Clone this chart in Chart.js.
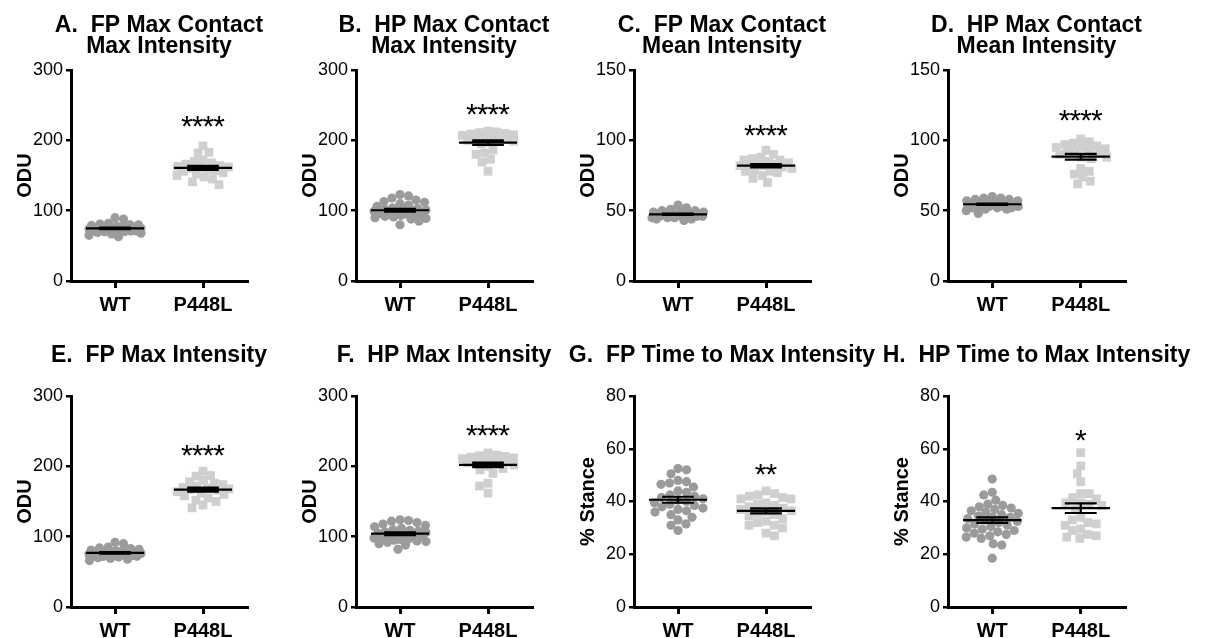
<!DOCTYPE html>
<html lang="en">
<head>
<meta charset="UTF-8" />
<title>P448L paw print intensity</title>
<script src="https://cdn.jsdelivr.net/npm/chart.js@4.4.1/dist/chart.umd.min.js"></script>
<style>
  body { margin: 0; background: #fff; width: 1206px; height: 638px; position: relative; overflow: hidden; }
  .panel { position: absolute; left: 0; top: 0; }
</style>
</head>
<body>
<script>
const groups = ['WT', 'P448L'];

const titles = [
  ['A.  FP Max Contact', 'Max Intensity'],
  ['B.  HP Max Contact', 'Max Intensity'],
  ['C.  FP Max Contact', 'Mean Intensity'],
  ['D.  HP Max Contact', 'Mean Intensity'],
  'E.  FP Max Intensity',
  'F.  HP Max Intensity',
  'G.  FP Time to Max Intensity',
  'H.  HP Time to Max Intensity'
];
const yTitles = ['ODU', 'ODU', 'ODU', 'ODU', 'ODU', 'ODU', '% Stance', '% Stance'];
const yMax = [300, 300, 150, 150, 300, 300, 80, 80];
const yStep = [100, 100, 50, 50, 100, 100, 20, 20];
const stars = ['****', '****', '****', '****', '****', '****', '**', '*'];
const starAt = [223, 240, 105, 116, 219, 247, 51, 64];

// per-animal values, WT then P448L
const wtA = [90, 88, 82, 81, 80, 80, 79, 78, 78, 77, 77, 76, 76, 75, 75, 74, 74, 73, 73, 72, 72, 71, 71, 70, 70, 69, 68, 67, 65, 63];
const mutA = [192, 183, 182, 172, 170, 168, 166, 164, 163, 162, 161, 160, 158, 157, 156, 154, 152, 150, 148, 145, 141, 137];
const wtB = [123, 121, 118, 115, 113, 112, 110, 108, 106, 104, 103, 102, 101, 100, 100, 99, 98, 97, 96, 95, 95, 94, 93, 92, 91, 90, 89, 88, 85, 80];
const mutB = [213, 212, 211, 210, 209, 208, 207, 206, 205, 204, 203, 202, 200, 199, 197, 195, 186, 182, 180, 173, 169, 156];
const wtC = [54, 52, 51, 50, 50, 49, 49, 49, 48, 48, 48, 48, 48, 47, 47, 47, 47, 47, 47, 46, 46, 46, 46, 46, 45, 45, 45, 44, 44, 43];
const mutC = [93, 90, 88, 87, 86, 86, 85, 84, 84, 83, 83, 82, 82, 81, 80, 79, 78, 78, 77, 75, 73, 70];
const wtD = [60, 59, 59, 58, 58, 57, 57, 57, 56, 56, 56, 55, 55, 55, 55, 54, 54, 54, 54, 53, 53, 53, 53, 52, 52, 52, 51, 51, 50, 48];
const mutD = [101, 99, 98, 97, 96, 95, 95, 94, 93, 92, 92, 91, 90, 88, 88, 87, 80, 78, 76, 74, 71, 69];
const wtE = [92, 90, 85, 84, 83, 82, 81, 80, 80, 79, 79, 78, 78, 77, 77, 76, 76, 75, 75, 74, 74, 73, 73, 72, 72, 71, 70, 69, 68, 66];
const mutE = [193, 187, 186, 180, 178, 176, 174, 172, 170, 169, 168, 167, 166, 164, 162, 160, 158, 155, 152, 150, 145, 141];
const wtF = [124, 123, 122, 120, 118, 116, 114, 112, 110, 109, 108, 107, 106, 105, 104, 103, 102, 101, 100, 99, 98, 97, 96, 95, 94, 93, 92, 90, 88, 82];
const mutF = [219, 216, 215, 214, 213, 212, 211, 210, 209, 208, 207, 206, 205, 204, 202, 200, 197, 195, 190, 176, 172, 162];
const wtG = [52.5, 52, 50.5, 48, 47.5, 47, 46.5, 45.5, 44, 43.5, 42.5, 42, 41.5, 41, 40.5, 40, 39.5, 39, 38.5, 38, 37.5, 37, 36.5, 36, 35, 34, 33, 31.5, 31, 29];
const mutG = [44, 43, 42.5, 42, 41.5, 41, 41, 39.5, 39, 38.5, 38, 37.5, 37, 36.5, 36, 35.5, 35, 34.5, 33.5, 32.5, 32, 31, 31, 30, 28, 27];
const wtH = [48.5, 43.5, 42.5, 40.5, 39, 38.5, 38, 37.5, 37, 36.5, 36, 35.5, 35, 34.5, 34, 34, 33.5, 33, 32.5, 32, 31.5, 31, 30.5, 30, 29.5, 29, 28.5, 28, 27.5, 27, 26.5, 26, 24, 23.5, 18.5];
const mutH = [58.5, 53.5, 50.5, 47.5, 43, 43, 41.5, 41, 39.5, 39.5, 39, 38.5, 37, 34, 33, 32, 31.5, 31, 29.5, 29, 27.5, 27, 26.5, 26];

const wtValues = [wtA, wtB, wtC, wtD, wtE, wtF, wtG, wtH];
const mutValues = [mutA, mutB, mutC, mutD, mutE, mutF, mutG, mutH];

// where each plot area sits on the page
const areas = [
  {x: 71, y: 70, w: 176, h: 211}, {x: 356, y: 70, w: 176, h: 211},
  {x: 634, y: 70, w: 176, h: 211}, {x: 948, y: 70, w: 177, h: 211},
  {x: 71, y: 396, w: 176, h: 211}, {x: 356, y: 396, w: 176, h: 211},
  {x: 634, y: 396, w: 176, h: 211}, {x: 948, y: 396, w: 177, h: 211}
];

const FONT = '"Liberation Sans", Arial, Helvetica, sans-serif';
Chart.defaults.font.family = FONT;
Chart.defaults.color = '#000';

const mean = a => a.reduce((s, v) => s + v, 0) / a.length;
const sem = a => {
  const m = mean(a);
  const sd = Math.sqrt(a.reduce((s, v) => s + (v - m) * (v - m), 0) / (a.length - 1));
  return sd / Math.sqrt(a.length);
};

// mean bar with SEM whiskers, broken into segments by empty points
function meanSemLine(vals, c) {
  const m = mean(vals), e = sem(vals), gap = {x: c, y: null};
  return [
    {x: c - 0.33, y: m}, {x: c + 0.33, y: m}, gap,
    {x: c, y: m - e}, {x: c, y: m + e}, gap,
    {x: c - 0.18, y: m + e}, {x: c + 0.18, y: m + e}, gap,
    {x: c - 0.18, y: m - e}, {x: c + 0.18, y: m - e}
  ];
}

// beeswarm with a width limit: take the free spot nearest the centre line,
// and when the row is full, the spot that overlaps the least
function spread(vals, chart, c) {
  const {x, y} = chart.scales;
  const unit = x.getPixelForValue(1) - x.getPixelForValue(0);
  const spacing = 8.5, maxHalf = 26;
  const order = vals.map((v, i) => i).sort((a, b) => vals[b] - vals[a]);
  const placed = [];
  const xs = new Array(vals.length);
  order.forEach((i, n) => {
    const py = y.getPixelForValue(vals[i]);
    const near = placed.filter(p => Math.abs(p.py - py) < spacing);
    const side = n % 2 ? -1 : 1;
    let best = 0, bestGap = -1, bestFree = null;
    for (let k = 0; k <= maxHalf * 4; k++) {
      const cand = side * (k % 2 ? -1 : 1) * Math.ceil(k / 2) * 0.5;
      let gap = Infinity;
      near.forEach(p => {
        const dx = p.off - cand, dy = p.py - py;
        gap = Math.min(gap, Math.sqrt(dx * dx + dy * dy));
      });
      if (gap >= spacing) { bestFree = cand; break; }
      if (gap > bestGap + 0.01) { bestGap = gap; best = cand; }
    }
    const off = bestFree !== null ? bestFree : best;
    placed.push({py, off});
    xs[i] = c + off / unit;
  });
  return xs;
}

const titlePlugin = {
  id: 'panelTitle',
  afterDraw(chart, args, opts) {
    const {ctx, chartArea: a} = chart;
    const lines = [].concat(opts.text);
    const cx = (a.left + a.right) / 2;
    const last = a.top - opts.gap;
    ctx.save();
    ctx.fillStyle = '#000';
    ctx.font = 'bold 23px ' + FONT;
    ctx.textAlign = 'center';
    ctx.textBaseline = 'alphabetic';
    lines.forEach((s, k) => ctx.fillText(s, cx, last - (lines.length - 1 - k) * 21.6));
    ctx.restore();
  }
};

const starPlugin = {
  id: 'stars',
  afterDatasetsDraw(chart, args, opts) {
    const {ctx, scales: {x, y}} = chart;
    const px = x.getPixelForValue(1.5);
    const py = y.getPixelForValue(opts.value);
    const size = 30, step = 10.8, n = opts.text.length;
    ctx.save();
    ctx.fillStyle = '#000';
    ctx.font = size + 'px ' + FONT;
    ctx.textAlign = 'center';
    ctx.textBaseline = 'alphabetic';
    for (let k = 0; k < n; k++) {
      ctx.fillText(opts.text[k], px + (k - (n - 1) / 2) * step, py + 0.4 * size);
    }
    ctx.restore();
  }
};

function makePanel(i) {
  const wrap = document.createElement('div');
  wrap.className = 'panel';
  const canvas = document.createElement('canvas');
  canvas.width = 350;
  canvas.height = 330;
  wrap.appendChild(canvas);
  document.body.appendChild(wrap);

  const twoLine = Array.isArray(titles[i]);
  const wt = wtValues[i], mut = mutValues[i];

  const chart = new Chart(canvas, {
    type: 'scatter',
    data: {
      datasets: [
        {label: groups[0], data: wt.map(v => ({x: 0.5, y: v})), pointStyle: 'circle', pointRadius: 4.6,
         backgroundColor: '#9b9b9b', borderWidth: 0, order: 2},
        {label: groups[1], data: mut.map(v => ({x: 1.5, y: v})), pointStyle: 'rect', pointRadius: 6.2,
         backgroundColor: '#cfcfcf', borderWidth: 0, order: 2},
        {label: 'WT mean', data: meanSemLine(wt, 0.5), showLine: true, pointRadius: 0,
         borderColor: '#000', borderWidth: 2.2, spanGaps: false, order: 1},
        {label: 'P448L mean', data: meanSemLine(mut, 1.5), showLine: true, pointRadius: 0,
         borderColor: '#000', borderWidth: 2.2, spanGaps: false, order: 1}
      ]
    },
    options: {
      responsive: false,
      maintainAspectRatio: false,
      animation: false,
      events: [],
      layout: {padding: {top: 62, right: 80, bottom: 4, left: 24}},
      plugins: {
        legend: {display: false},
        tooltip: {enabled: false},
        title: {display: false},
        panelTitle: {text: titles[i], gap: twoLine ? 16.7 : 34.3},
        stars: {text: stars[i], value: starAt[i]}
      },
      scales: {
        x: {
          type: 'linear', min: 0, max: 2,
          afterBuildTicks: axis => { axis.ticks = groups.map((g, k) => ({value: k + 0.5})); },
          ticks: {callback: v => groups[Math.floor(v)], color: '#000', padding: 5,
                  font: {size: 20, weight: 'bold'}, maxRotation: 0},
          grid: {drawOnChartArea: false, drawTicks: true, tickLength: 7, color: '#000', lineWidth: 3},
          border: {display: true, color: '#000', width: 3}
        },
        y: {
          min: 0, max: yMax[i],
          ticks: {stepSize: yStep[i], color: '#000', padding: 3, font: {size: 18}},
          grid: {drawOnChartArea: false, drawTicks: true, tickLength: 5, color: '#000', lineWidth: 2.5},
          border: {display: true, color: '#000', width: 3},
          title: {display: true, text: yTitles[i], color: '#000',
                  font: {size: 20, weight: 'bold', lineHeight: 1.2}, padding: {top: 12, bottom: 0}},
          afterFit: axis => { axis.width = 70; }
        }
      }
    },
    plugins: [titlePlugin, starPlugin]
  });

  // size the canvas so the plot area matches, then move it into place
  const t = areas[i];
  let a = chart.chartArea;
  chart.resize(chart.width + t.w - (a.right - a.left), chart.height + t.h - (a.bottom - a.top));
  a = chart.chartArea;
  wrap.style.left = (t.x - a.left) + 'px';
  wrap.style.top = (t.y - a.top) + 'px';

  const wx = spread(wt, chart, 0.5);
  const mx = spread(mut, chart, 1.5);
  chart.data.datasets[0].data = wt.map((v, k) => ({x: wx[k], y: v}));
  chart.data.datasets[1].data = mut.map((v, k) => ({x: mx[k], y: v}));
  chart.update('none');
}

for (let i = 0; i < 8; i++) makePanel(i);
</script>
</body>
</html>
